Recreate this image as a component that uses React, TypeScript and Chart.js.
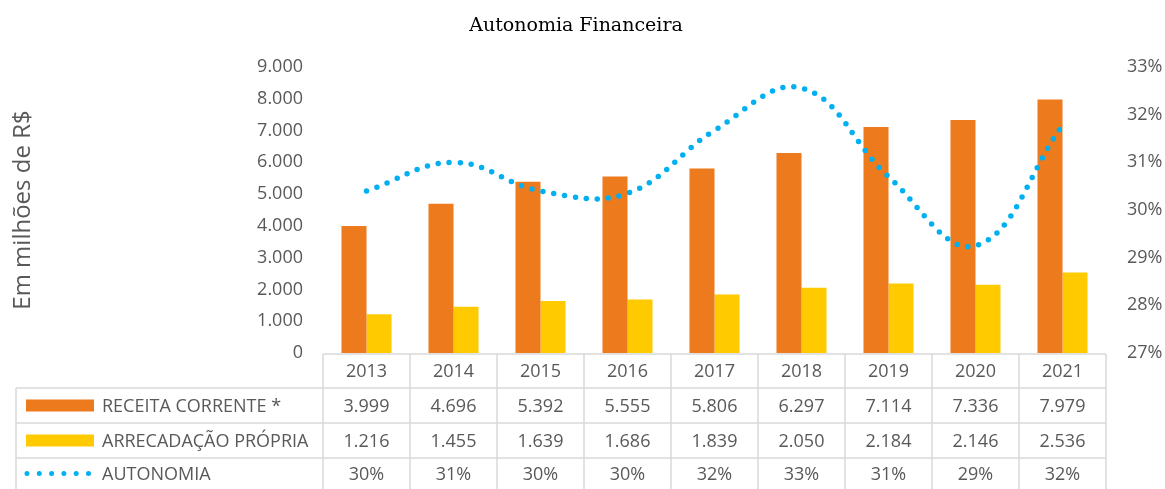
import React, { useEffect, useRef } from "react";
import { Chart, registerables } from "chart.js";

Chart.register(...registerables);

const years = ["2013", "2014", "2015", "2016", "2017", "2018", "2019", "2020", "2021"];
const receitaCorrente = [3999, 4696, 5392, 5555, 5806, 6297, 7114, 7336, 7979];
const arrecadacaoPropria = [1216, 1455, 1639, 1686, 1839, 2050, 2184, 2146, 2536];
const autonomia = [30.4, 31.0, 30.4, 30.35, 31.67, 32.56, 30.7, 29.25, 31.78];
const seriesNames = ["RECEITA CORRENTE *", "ARRECADAÇÃO PRÓPRIA", "AUTONOMIA"];
const titleText = "Autonomia Financeira";
const yTitle = "Em milhões de R$";

const ORANGE = "#EE7A1E";
const YELLOW = "#FFCA00";
const BLUE = "#00B0F0";
const GRAY = "#595959";
const GRID = "#D9D9D9";
const FONT = "'Open Sans', sans-serif";

const fmt = (v: number) => String(v).replace(/\B(?=(\d{3})+(?!\d))/g, ".");

const tablePlugin = {
  id: "dataTable",
  afterDraw(chart: any) {
    const ctx = chart.ctx as CanvasRenderingContext2D;
    const xs = chart.scales.x;
    const half = (xs.getPixelForValue(1) - xs.getPixelForValue(0)) / 2;
    const left0 = xs.getPixelForValue(0) - half;
    const right = xs.getPixelForValue(years.length - 1) + half;
    const legLeft = 16;
    const rowY = [354, 388, 423, 458, 489];
    ctx.save();
    // title
    ctx.fillStyle = "#000";
    ctx.font = "19px 'DejaVu Serif', serif";
    ctx.textAlign = "center";
    ctx.textBaseline = "middle";
    ctx.fillText(titleText, 576, 26);

    // grid lines
    ctx.strokeStyle = GRID;
    ctx.lineWidth = 1.5;
    ctx.beginPath();
    ctx.moveTo(left0, rowY[0]);
    ctx.lineTo(right, rowY[0]);
    for (let r = 1; r <= 3; r++) {
      ctx.moveTo(legLeft, rowY[r]);
      ctx.lineTo(right, rowY[r]);
    }
    ctx.moveTo(legLeft, rowY[1]);
    ctx.lineTo(legLeft, rowY[4]);
    for (let i = 0; i <= years.length; i++) {
      const x = left0 + i * half * 2;
      ctx.moveTo(x, rowY[0]);
      ctx.lineTo(x, rowY[4]);
    }
    ctx.stroke();

    // texts
    ctx.fillStyle = GRAY;
    ctx.font = `18px ${FONT}`;
    ctx.textAlign = "center";
    const rows = [
      years,
      receitaCorrente.map(fmt),
      arrecadacaoPropria.map(fmt),
      autonomia.map((v) => Math.round(v) + "%"),
    ];
    rows.forEach((row, r) => {
      const cy = (rowY[r] + rowY[r + 1]) / 2 + 1;
      row.forEach((t, i) => {
        ctx.fillText(String(t), xs.getPixelForValue(i), cy);
      });
    });

    // legend cells
    ctx.textAlign = "left";
    for (let r = 1; r <= 3; r++) {
      const cy = (rowY[r] + rowY[r + 1]) / 2;
      if (r === 1 || r === 2) {
        ctx.fillStyle = r === 1 ? ORANGE : YELLOW;
        ctx.fillRect(26, cy - 6, 68, 12);
      } else {
        ctx.strokeStyle = BLUE;
        ctx.lineWidth = 5;
        ctx.lineCap = "round";
        ctx.setLineDash([0, 12.3]);
        ctx.beginPath();
        ctx.moveTo(27, cy);
        ctx.lineTo(91, cy);
        ctx.stroke();
        ctx.setLineDash([]);
      }
      ctx.fillStyle = GRAY;
      ctx.fillText(seriesNames[r - 1], 102, cy + 1);
    }
    ctx.restore();
  },
};

export default function App() {
  const ref = useRef<HTMLCanvasElement | null>(null);
  useEffect(() => {
    if (!ref.current) return;
    const chart = new Chart(ref.current, {
      type: "bar",
      data: {
        labels: years,
        datasets: [
          {
            type: "line",
            label: seriesNames[2],
            data: autonomia,
            yAxisID: "y1",
            borderColor: BLUE,
            borderWidth: 5.5,
            borderCapStyle: "round",
            borderDash: [0, 11],
            pointRadius: 0,
            tension: 0.4,
            fill: false,
            order: 0,
          } as any,
          {
            label: seriesNames[0],
            data: receitaCorrente,
            backgroundColor: ORANGE,
            yAxisID: "y",
            categoryPercentage: 0.575,
            barPercentage: 1,
            order: 1,
          },
          {
            label: seriesNames[1],
            data: arrecadacaoPropria,
            backgroundColor: YELLOW,
            yAxisID: "y",
            categoryPercentage: 0.575,
            barPercentage: 1,
            order: 1,
          },
        ],
      },
      options: {
        responsive: false,
        animation: false,
        devicePixelRatio: 1,
        layout: { padding: { top: 67, bottom: 136, left: 0, right: 0 } },
        plugins: { legend: { display: false }, title: { display: false }, tooltip: { enabled: false } },
        scales: {
          x: { display: false },
          y: {
            position: "left",
            min: 0,
            max: 9000,
            grid: { display: false, drawTicks: false },
            border: { display: false },
            ticks: {
              stepSize: 1000,
              padding: 20,
              color: GRAY,
              font: { family: FONT, size: 18 },
              callback: (v: any) => fmt(Number(v)),
            },
            title: {
              display: true,
              text: yTitle,
              color: GRAY,
              font: { family: FONT, size: 24 },
              padding: { top: 9, bottom: 0 },
            },
            afterFit: (s: any) => {
              s.width = 323;
            },
          },
          y1: {
            position: "right",
            min: 27,
            max: 33,
            grid: { display: false, drawTicks: false },
            border: { display: false },
            ticks: {
              stepSize: 1,
              padding: 21,
              color: GRAY,
              font: { family: FONT, size: 18 },
              callback: (v: any) => v + "%",
            },
            afterFit: (s: any) => {
              s.width = 59;
            },
          },
        },
      },
      plugins: [tablePlugin],
    });
    return () => chart.destroy();
  }, []);
  return (
    <div style={{ position: "fixed", left: 0, top: 0, width: 1165, height: 489, background: "#fff" }}>
      <canvas ref={ref} width={1165} height={489} />
    </div>
  );
}
